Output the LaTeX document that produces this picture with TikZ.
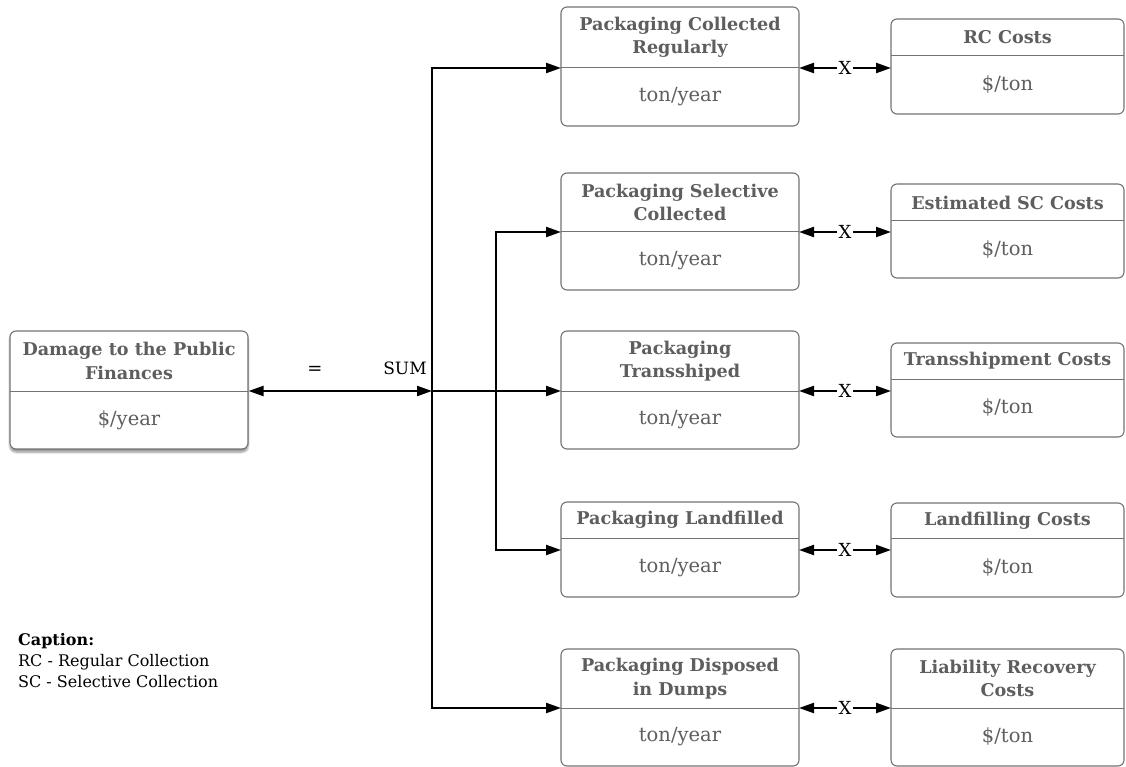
\documentclass[tikz,border=0pt]{standalone}
\usepackage{fontspec}
\setmainfont{DejaVu Serif}
\usepackage{tikz}
\usetikzlibrary{positioning,calc,arrows.meta,shadows.blur}
\usepackage{xcolor}
\definecolor{txtgray}{HTML}{5E5E5E}
\definecolor{edgegray}{HTML}{737373}

\tikzset{
  box/.style={draw=edgegray, line width=1.1pt, rounded corners=6pt, fill=white, inner sep=0pt},
  divider/.style={draw=edgegray, line width=1pt},
  boxtitle/.style={text=txtgray, font=\fontsize{17.6}{23.5}\selectfont\bfseries, align=center, inner sep=0pt},
  boxunit/.style={text=txtgray, font=\fontsize{19.5}{22}\selectfont, inner sep=0pt},
  link/.style={line width=2.2pt, -{Triangle[length=15pt,width=10pt]}},
  xmark/.style={fill=white, inner sep=1.5pt, font=\fontsize{18}{20}\selectfont},
}

\begin{document}
\begin{tikzpicture}[x=1pt,y=-1pt]
    \useasboundingbox (0,0) rectangle (1126,767);
    % 结果方框 (左)
    \node[box, minimum width=238pt, minimum height=118pt,
          blur shadow={shadow xshift=0pt, shadow yshift=-3pt, shadow blur steps=8, shadow opacity=45}]
          (damage) at (129,390) {};
    \draw[divider] (10,391) -- (248,391);
    \node[boxtitle] (damage-t) at (129,361) {Damage to the Public\\Finances};
    \node[boxunit] (damage-u) at (129,420) {\$/year};
    % 中间方框: 包装流量
    \foreach \name/\top/\div/\bot/\ay/\title in {
        m1/7/68/126/68/{Packaging Collected\\Regularly},
        m2/173/232/290/232/{Packaging Selective\\Collected},
        m3/331/391/449/391/{Packaging\\Transshiped},
        m4/502/538/597/550/{Packaging Landfilled},
        m5/649/708/766/708/{Packaging Disposed\\in Dumps}} {
        \node[box, minimum width=238pt, minimum height={(\bot-\top)*1pt}]
              (\name) at (680,{(\top+\bot)/2}) {};
        \draw[divider] (561,\div) -- (799,\div);
        \node[boxtitle] (\name-t) at (680,{(\top+\div)/2}) {\title};
        \node[boxunit] (\name-u) at (680,{(\div+\bot)/2}) {ton/year};
        \coordinate (\name-in) at (561,\ay);
        \coordinate (\name-out) at (799,\ay);
    }
    % 右侧方框: 单位成本
    \foreach \name/\top/\div/\bot/\ay/\title in {
        r1/19/56/114/68/{RC Costs},
        r2/184/221/278/232/{Estimated SC Costs},
        r3/343/379/437/391/{Transshipment Costs},
        r4/503/538/597/550/{Landfilling Costs},
        r5/649/708/766/708/{Liability Recovery\\Costs}} {
        \node[box, minimum width=233pt, minimum height={(\bot-\top)*1pt}]
              (\name) at (1007.5,{(\top+\bot)/2}) {};
        \draw[divider] (891,\div) -- (1124,\div);
        \node[boxtitle] (\name-t) at (1007.5,{(\top+\div)/2}) {\title};
        \node[boxunit] (\name-u) at (1007.5,{(\div+\bot)/2}) {\$/ton};
        \coordinate (\name-in) at (891,\ay);
    }
    % 乘法连线
    \foreach \i in {1,...,5} {
        \draw[link, {Triangle[length=15pt,width=10pt]}-{Triangle[length=15pt,width=10pt]}]
            (m\i-out) -- node[xmark] (x\i) {X} (r\i-in);
    }
    % 求和
    \coordinate (eq) at (340,391);
    \coordinate (bus) at (432,391);
    \coordinate (bus2) at (496,391);
    \draw[link] (eq) -- (damage.east |- eq);
    \draw[link] (eq) -- (bus);
    \node[font=\fontsize{18}{20}\selectfont] (equal) at (315,370) {=};
    \node[font=\fontsize{17}{20}\selectfont] (sum) at (405,368) {SUM};
    \draw[link] (bus) |- (m1-in);
    \draw[link] (bus) |- (m5-in);
    \draw[link] (bus) -- (m3-in);
    \draw[link] (bus2) |- (m2-in);
    \draw[link] (bus2) |- (m4-in);
    % 图例
    \node[anchor=north west, align=left, inner sep=0pt, font=\fontsize{16}{21}\selectfont]
        (caption) at (18,633) {\textbf{Caption:}\\RC - Regular Collection\\SC - Selective Collection};
\end{tikzpicture}
\end{document}
